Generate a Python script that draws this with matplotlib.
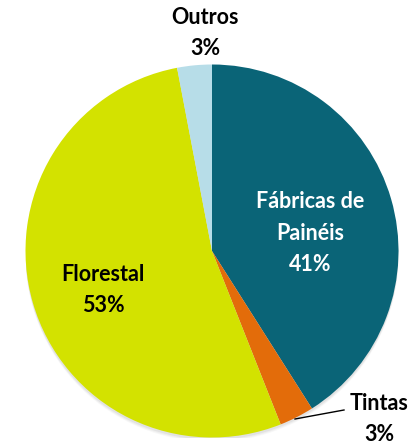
import matplotlib.pyplot as plt
from matplotlib.patches import Circle

labels = ["Fábricas de\nPainéis", "Tintas", "Florestal", "Outros"]
values = [41, 3, 53, 3]
colors = ["#0A6477", "#E36C0A", "#D3E200", "#B7DDE8"]

plt.rcParams['font.family'] = ['Lato', 'DejaVu Sans']

W, H = 413, 444
cx, cy, r = 212, 251, 186.5

fig = plt.figure(figsize=(W / 100, H / 100), dpi=100)
ax = fig.add_axes([(cx - r) / W, (H - cy - r) / H, 2 * r / W, 2 * r / H])
ax.set_xlim(-1, 1)
ax.set_ylim(-1, 1)
ax.axis('off')


def to_data(px, py):
    return (px - cx) / r, (cy - py) / r


# soft shadow under the pie
for i, a in enumerate([0.10, 0.08, 0.06]):
    ax.add_patch(Circle((0, -0.012 - 0.006 * i), 1.0, color='#808080', alpha=a, lw=0, zorder=0))

wedges, _ = ax.pie(values, colors=colors, startangle=90, counterclock=False, radius=1.0,
                   wedgeprops=dict(linewidth=0), frame=False)
ax.set_xlim(-1, 1)
ax.set_ylim(-1, 1)
for w in wedges:
    w.set_zorder(2)

texts = [
    (f"{labels[0]}\n{values[0]}%", 310, 233, 'white'),
    (f"{labels[1]}\n{values[1]}%", 379, 419, 'black'),
    (f"{labels[2]}\n{values[2]}%", 103, 290, 'black'),
    (f"{labels[3]}\n{values[3]}%", 205, 33, 'black'),
]
for s, px, py, c in texts:
    x, y = to_data(px, py)
    ax.text(x, y, s, ha='center', va='center', color=c, fontsize=15.5, fontweight='bold',
            linespacing=1.6, clip_on=False, zorder=5)

# leader line for Tintas
x0, y0 = to_data(295, 419)
x1, y1 = to_data(344, 410)
ax.plot([x0, x1], [y0, y1], color='black', lw=1, clip_on=False, zorder=5)

fig.savefig("out.png", dpi=100)
